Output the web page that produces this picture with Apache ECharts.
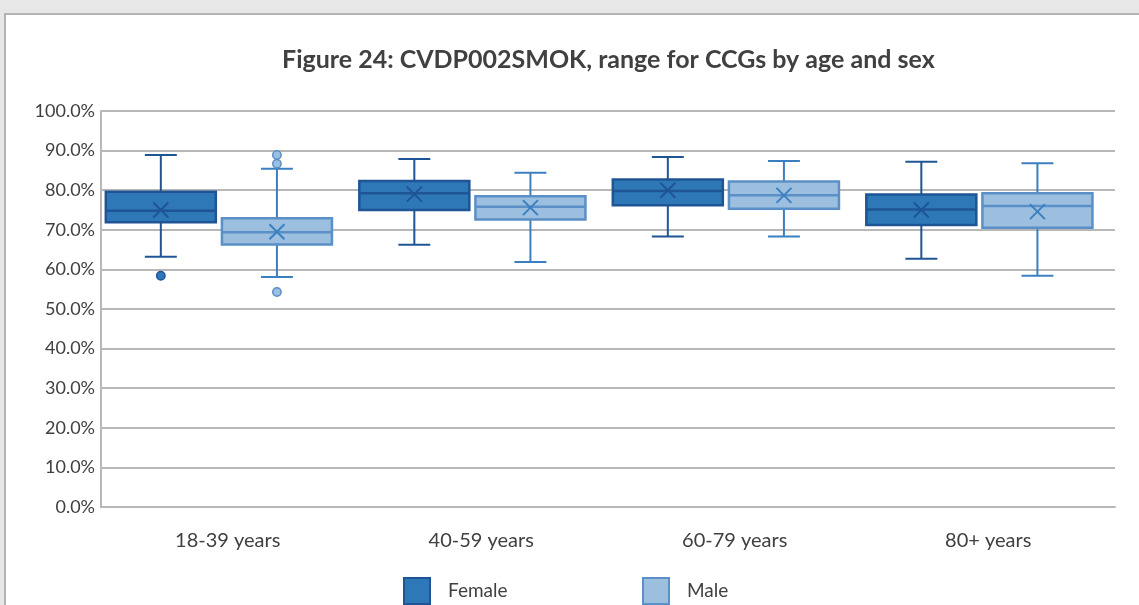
<!DOCTYPE html>
<html>
<head>
<meta charset="utf-8">
<script src="https://cdn.jsdelivr.net/npm/echarts@6/dist/echarts.min.js"></script>
<style>
  html, body { margin: 0; padding: 0; width: 1139px; height: 605px; overflow: hidden; background: #e7e7e7; }
  #frame { position: absolute; left: 4px; top: 13px; width: 1200px; height: 700px; background: #fff;
           border-left: 2px solid #b3b3b3; border-top: 2px solid #b3b3b3; }
  #chart { position: absolute; left: 0; top: 0; width: 1139px; height: 605px; }
</style>
</head>
<body>
<div id="frame"></div>
<div id="chart"></div>
<script>
// Age bands on the x axis
const categories = ['18-39 years', '40-59 years', '60-79 years', '80+ years'];

// Five-number summaries per age band: [min, Q1, median, Q3, max], in percent
const femaleBox = [
  [63.2, 71.9, 74.8, 79.6, 88.9],
  [66.2, 75.0, 79.2, 82.3, 87.9],
  [68.3, 76.2, 79.8, 82.7, 88.4],
  [62.7, 71.2, 75.1, 78.9, 87.2]
];
const maleBox = [
  [58.1, 66.3, 69.4, 72.9, 85.4],
  [61.9, 72.6, 75.8, 78.5, 84.4],
  [68.3, 75.3, 78.7, 82.2, 87.4],
  [58.4, 70.5, 76.0, 79.2, 86.8]
];

// Means (drawn as crosses)
const femaleMean = [75.0, 79.0, 80.0, 75.0];
const maleMean = [69.5, 75.6, 78.7, 74.6];

// Outlying CCGs: [age band index, value]
const femaleOutliers = [[0, 58.4]];
const maleOutliers = [[0, 88.9], [0, 86.7], [0, 54.3]];

// Y axis range and step
const yMin = 0, yMax = 100, yStep = 10;

const FEMALE = { fill: '#2e78b7', stroke: '#1f5495', line: '#1f5495', cross: '#1f5495' };
const MALE = { fill: '#9cbfdf', stroke: '#5b8fc7', line: '#3a80c1', cross: '#3a80c1' };

// Box layout within a category band (fractions of the band width)
const BOX_RATIO = 0.434;
const SIDE_OFFSET = 0.229;
const PAIR_SHIFT = -0.035;
const CAP_RATIO = 0.126;

function slotCenter(api, cat, side) {
  const band = api.size([1, 0])[0];
  return { cx: api.coord([cat, 0])[0] + band * (PAIR_SHIFT + side * SIDE_OFFSET), band: band };
}

function boxRenderer(side, c) {
  return function (params, api) {
    const cat = api.value(0);
    const s = slotCenter(api, cat, side);
    const cx = s.cx, w = s.band * BOX_RATIO, cap = s.band * CAP_RATIO;
    const y = i => api.coord([cat, api.value(i)])[1];
    const yLo = y(1), yQ1 = y(2), yMed = y(3), yQ3 = y(4), yHi = y(5), yMean = y(6);
    const ls = { stroke: c.line, lineWidth: 2 };
    const m = 7.5;
    return {
      type: 'group',
      children: [
        { type: 'line', shape: { x1: cx, y1: yHi, x2: cx, y2: yQ3 }, style: ls },
        { type: 'line', shape: { x1: cx, y1: yQ1, x2: cx, y2: yLo }, style: ls },
        { type: 'line', shape: { x1: cx - cap / 2, y1: yHi, x2: cx + cap / 2, y2: yHi }, style: ls },
        { type: 'line', shape: { x1: cx - cap / 2, y1: yLo, x2: cx + cap / 2, y2: yLo }, style: ls },
        { type: 'rect', shape: { x: cx - w / 2, y: yQ3, width: w, height: yQ1 - yQ3 },
          style: { fill: c.fill, stroke: c.stroke, lineWidth: 2.5 } },
        { type: 'line', shape: { x1: cx - w / 2, y1: yMed, x2: cx + w / 2, y2: yMed },
          style: { stroke: c.stroke, lineWidth: 2.5 } },
        { type: 'line', shape: { x1: cx - m, y1: yMean - m, x2: cx + m, y2: yMean + m },
          style: { stroke: c.cross, lineWidth: 2 } },
        { type: 'line', shape: { x1: cx - m, y1: yMean + m, x2: cx + m, y2: yMean - m },
          style: { stroke: c.cross, lineWidth: 2 } }
      ]
    };
  };
}

function outlierRenderer(side, c) {
  return function (params, api) {
    const cat = api.value(0);
    const s = slotCenter(api, cat, side);
    const p = api.coord([cat, api.value(1)]);
    return {
      type: 'circle',
      shape: { cx: s.cx, cy: p[1], r: 4.2 },
      style: { fill: c.fill, stroke: c.stroke, lineWidth: 1.5 }
    };
  };
}

const femaleData = femaleBox.map((b, i) => [i].concat(b, [femaleMean[i]]));
const maleData = maleBox.map((b, i) => [i].concat(b, [maleMean[i]]));

const textColor = '#404040';
const gridColor = '#b8b8b8';
const fontFamily = 'Lato, "Open Sans", sans-serif';

const chart = echarts.init(document.getElementById('chart'), null, { renderer: 'canvas' });

chart.setOption({
  backgroundColor: 'transparent',
  animation: false,
  textStyle: { fontFamily: fontFamily },
  title: {
    text: 'Figure 24: CVDP002SMOK, range for CCGs by age and sex',
    left: 277,
    top: 42,
    textStyle: { fontSize: 25, fontWeight: 'bold', color: textColor, fontFamily: fontFamily }
  },
  legend: [
    {
      left: 398, top: 572,
      itemWidth: 26, itemHeight: 26,
      textStyle: { fontSize: 19, color: textColor, padding: [0, 0, 0, 13] },
      data: [{ name: 'Female', icon: 'rect',
               itemStyle: { color: FEMALE.fill, borderColor: FEMALE.stroke, borderWidth: 2 } }]
    },
    {
      left: 637, top: 572,
      itemWidth: 26, itemHeight: 26,
      textStyle: { fontSize: 19, color: textColor, padding: [0, 0, 0, 13] },
      data: [{ name: 'Male', icon: 'rect',
               itemStyle: { color: MALE.fill, borderColor: MALE.stroke, borderWidth: 2 } }]
    }
  ],
  grid: { left: 101, right: 24, top: 111, bottom: 98, containLabel: false },
  xAxis: {
    type: 'category',
    data: categories,
    axisLine: { show: true, lineStyle: { color: gridColor, width: 2 } },
    axisTick: { show: false },
    axisLabel: { fontSize: 20, color: textColor, margin: 24 },
    splitLine: { show: false }
  },
  yAxis: {
    type: 'value',
    min: yMin, max: yMax, interval: yStep,
    axisLine: { show: true, lineStyle: { color: gridColor, width: 2 } },
    axisTick: { show: false },
    axisLabel: { fontSize: 18, color: textColor, margin: 6, formatter: v => v.toFixed(1) + '%' },
    splitLine: { show: true, lineStyle: { color: gridColor, width: 2 } }
  },
  series: [
    { name: 'Female', type: 'custom', renderItem: boxRenderer(-1, FEMALE), data: femaleData,
      encode: { x: 0, y: [1, 2, 3, 4, 5, 6] }, itemStyle: { color: FEMALE.fill }, clip: false, z: 3 },
    { name: 'Male', type: 'custom', renderItem: boxRenderer(1, MALE), data: maleData,
      encode: { x: 0, y: [1, 2, 3, 4, 5, 6] }, itemStyle: { color: MALE.fill }, clip: false, z: 3 },
    { name: 'Female', type: 'custom', renderItem: outlierRenderer(-1, FEMALE), data: femaleOutliers,
      encode: { x: 0, y: 1 }, itemStyle: { color: FEMALE.fill }, clip: false, z: 4 },
    { name: 'Male', type: 'custom', renderItem: outlierRenderer(1, MALE), data: maleOutliers,
      encode: { x: 0, y: 1 }, itemStyle: { color: MALE.fill }, clip: false, z: 4 }
  ]
});
</script>
</body>
</html>
